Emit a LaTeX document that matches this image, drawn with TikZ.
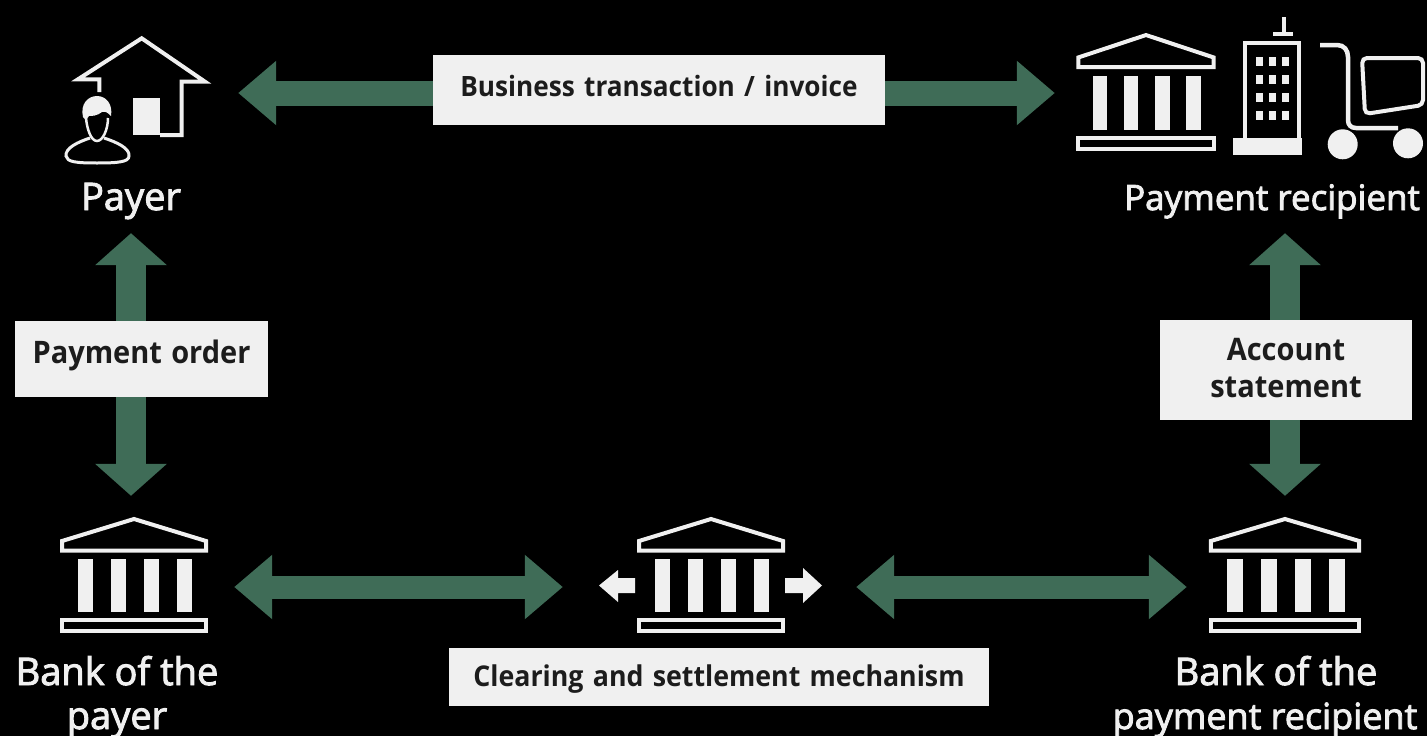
\documentclass[tikz,border=0pt]{standalone}
\usepackage{fontspec}
\setmainfont{Open Sans}[BoldFeatures={FakeStretch=0.935}]
\newfontfamily\namefont{Open Sans}[FakeBold=2.5]
\newcommand\longname{\fontsize{35}{44}\selectfont}
\newcommand\bigtag{\fontsize{31}{37}\selectfont}
\usetikzlibrary{arrows.meta}
\definecolor{flowgreen}{HTML}{3F6C57}
\definecolor{iconwhite}{HTML}{F0F0F0}
\definecolor{boxtext}{HTML}{1C1C1C}
\tikzset{
  flow/.style={draw=flowgreen, line width=#1, {Triangle[length=38pt,width=62pt]}-{Triangle[length=38pt,width=62pt]}},
  riser/.style={draw=flowgreen, line width=30pt, {Triangle[length=32pt,width=70pt]}-{Triangle[length=32pt,width=70pt]}},
  iconspot/.style={inner sep=0pt, minimum height=#1},
  nametext/.style={inner sep=0pt, text=iconwhite, font=\fontsize{38}{44}\selectfont\namefont, align=center, text height=28pt, text depth=8pt},
  tagbox/.style={fill=iconwhite, text=boxtext, inner sep=0pt, align=center, font=\fontsize{28}{37}\selectfont\bfseries},
  iconline/.style={draw=iconwhite, line width=4pt, line join=miter},
  iconfill/.style={fill=iconwhite},
  bank/.pic={
    \draw[iconline] (0,2) -- (-72,24) -- (-72,33.5) -- (72,33.5) -- (72,24) -- cycle;
    \foreach \colx in {-56,-23,10,43}
      \fill[iconfill] (\colx,42) rectangle ++(15,53);
    \draw[iconline] (-72,103) rectangle (72,114);
  }
}
\begin{document}
\begin{tikzpicture}[x=1pt,y=-1pt]
  \fill[black] (0,0) rectangle (1427,736);
  \useasboundingbox (0,0) rectangle (1427,736);

  % named spots around the icons
  \node[iconspot=112pt, minimum width=146pt] (payer) at (135,93) {};
  \node[iconspot=150pt, minimum width=346pt] (recipient) at (1250,93) {};
  \node[iconspot=142pt, minimum width=146pt] (bankpayer) at (134,587) {};
  \node[iconspot=142pt, minimum width=222pt] (clearing) at (711,587) {};
  \node[iconspot=142pt, minimum width=150pt] (bankrecipient) at (1285,587) {};
  \node[nametext] (payername) at (131,200) {Payer};
  \node[nametext] (recipientname) at (1272,200) {\longname Payment recipient};

  \foreach \from/\to/\gapa/\gapb/\wide in {payer/recipient/30/22/25, bankpayer/clearing/27/37/23, clearing/bankrecipient/34/23/23}
    \draw[flow=\wide pt, shorten <=\gapa pt, shorten >=\gapb pt] (\from) -- (\to);
  \draw[riser, shorten <=15pt, shorten >=20pt] (payername.south) -- (payername.south |- bankpayer.north);
  \draw[riser, shorten <=15pt, shorten >=20pt] (bankrecipient.north |- recipientname.south) -- (bankrecipient.north);

  \node[tagbox, text width=452pt, text height=41pt, text depth=29pt] (invoice) at (659,90) {Business transaction / invoice};
  \node[tagbox, text width=253pt, text height=42pt, text depth=34pt] (order) at (141.5,359) {\bigtag Payment order};
  \node[tagbox, text width=252pt, text height=40pt, text depth=60pt] (statement) at (1286,370) {\bigtag Account\\\bigtag statement};
  \node[tagbox, text width=540pt, text height=38pt, text depth=20pt] (settlement) at (719,677) {\fontsize{28.6}{37}\selectfont Clearing and settlement mechanism};
  \node[nametext] (bankpayername) at (117,719) {Bank of the\\payer};
  \node[nametext] (bankrecipientname) at (1265,719) {\hspace*{22pt}Bank of the\\{\fontsize{36}{44}\selectfont payment recipient}};

  % house and person
  \draw[iconline] (99.3,92) -- (99.3,79.3) -- (78,79.3) -- (141.7,38.3) -- (205,81.7) -- (181.7,81.7) -- (181.7,135) -- (160,135);
  \fill[iconfill] (132.7,98.3) rectangle (160,135);
  \fill[iconfill] (83,117) .. controls (80,104) and (88,96) .. (97,96) .. controls (106,96) and (113,104) .. (111,116) .. controls (108,113) and (106,111) .. (102,112) .. controls (97,116) and (92,116) .. (89,116) -- (86,120) -- cycle;
  \draw[draw=iconwhite, line width=2.5pt] (86,118) .. controls (87,129) and (91,141) .. (97,141) .. controls (103,141) and (108,129) .. (108,118);
  \draw[draw=iconwhite, line width=3pt] (90,138) .. controls (78,142) and (65,148) .. (66,156) .. controls (67,162) and (76,163) .. (97,163) .. controls (118,163) and (129,162) .. (129,156) .. controls (130,148) and (116,142) .. (104,138);

  % recipient icons
  \pic[xscale=.94, yscale=1.02] at (1146,33) {bank};
  \draw[iconline] (1284,17) -- (1284,34.3) (1273.3,34.3) -- (1293.3,34.3);
  \draw[iconline] (1245,138) -- (1245,43.3) -- (1299.3,43.3) -- (1299.3,138);
  \fill[iconfill] (1233.3,138) rectangle (1301.7,155);
  \foreach \winx in {1259,1272,1285.7}
    \foreach \winy in {61,79.3,97.3,115.7}
      \fill[iconfill] (\winx-3.5,\winy-4.5) rectangle ++(7,9);
  \draw[iconline, line width=4.5pt] (1320,45) -- (1337,45) .. controls (1344,45) and (1348,50) .. (1348,57) -- (1348,120) .. controls (1348,125) and (1351,128) .. (1356,128) -- (1398,128);
  \draw[iconline, rounded corners=5pt] (1362,58) -- (1423,58) -- (1423,105) -- (1365,114) -- cycle;
  \fill[iconfill] (1342.7,144.3) circle (15pt) (1408,143.3) circle (15pt);

  % the three banks
  \pic at (134,517) {bank};
  \pic[xscale=1.03] at (1285,517) {bank};
  \pic at (711,517) {bank};
  \fill[iconfill] (635,578) -- (618,578) -- (618,570) -- (599,585.5) -- (618,602) -- (618,593) -- (635,593) -- cycle;
  \fill[iconfill] (785,578) -- (803,578) -- (803,568) -- (822,585.5) -- (803,603) -- (803,593) -- (785,593) -- cycle;
\end{tikzpicture}
\end{document}
